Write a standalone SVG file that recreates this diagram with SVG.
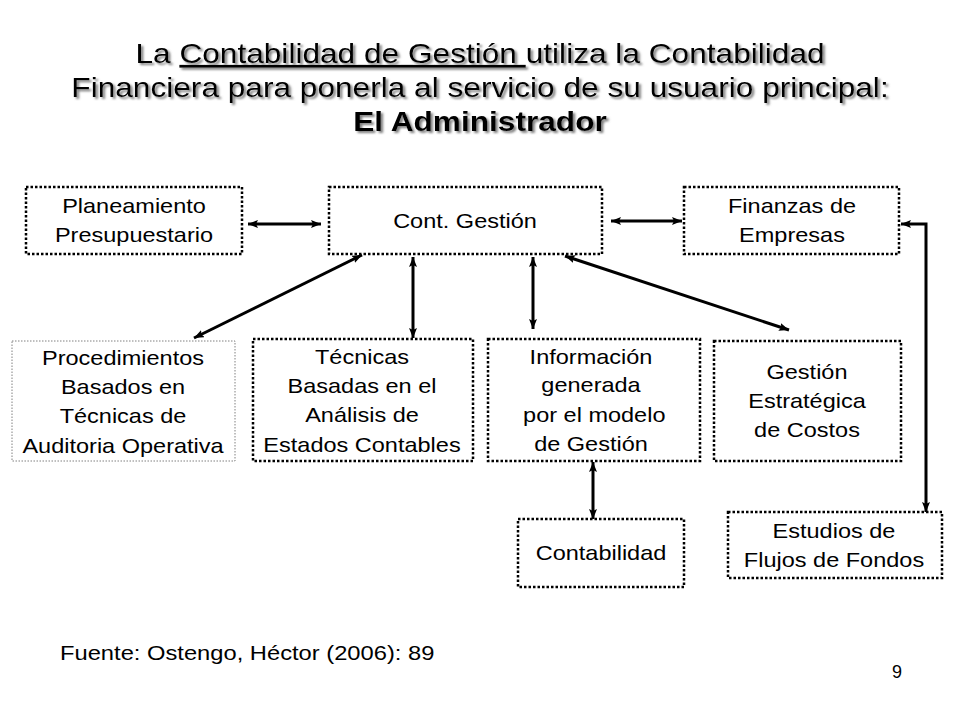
<svg xmlns="http://www.w3.org/2000/svg" width="960" height="720" viewBox="0 0 960 720">
<defs>
<filter id="shadow" x="-5%" y="-20%" width="110%" height="150%">
<feDropShadow dx="2" dy="2" stdDeviation="0.8" flood-color="#707070" flood-opacity="0.9"/>
</filter>
<marker id="ah" viewBox="0 0 10 8" refX="10" refY="4" markerWidth="10" markerHeight="8" markerUnits="userSpaceOnUse" orient="auto-start-reverse">
<path d="M0,0 L10,4 L0,8 L2,4 z" fill="#000"/>
</marker>
</defs>
<style>
.box{fill:#fff;stroke:#000;stroke-width:2.5;stroke-dasharray:2.5 2}
.thin{fill:#fff;stroke:#808080;stroke-width:1;stroke-dasharray:1.5 1.5}
.t{font-family:"Liberation Sans",Arial,sans-serif;font-size:21px;fill:#000;text-anchor:middle}
.title{font-family:"Liberation Sans",Arial,sans-serif;font-size:28px;fill:#000;text-anchor:middle;filter:url(#shadow)}
.c{fill:none;stroke:#000;stroke-width:3;marker-start:url(#ah);marker-end:url(#ah)}
</style>
<rect width="960" height="720" fill="#fff"/>
<g id="title">
<text class="title" transform="translate(480 0) scale(1.13 1)"><tspan x="0" y="63">La <tspan text-decoration="underline">Contabilidad  de Gestión </tspan>utiliza la Contabilidad</tspan><tspan x="0" y="97">Financiera para ponerla al servicio de su usuario principal:</tspan><tspan x="0" y="131" font-weight="bold">El Administrador</tspan></text>
</g>
<g id="connectors">
<line class="c" x1="248" y1="224" x2="321" y2="224"/>
<line class="c" x1="611" y1="221" x2="682" y2="221"/>
<line class="c" x1="362" y1="255" x2="194" y2="338"/>
<line class="c" x1="413" y1="257" x2="413" y2="338"/>
<line class="c" x1="533" y1="257" x2="533" y2="329"/>
<line class="c" x1="565" y1="256" x2="789" y2="330"/>
<line class="c" x1="593" y1="462" x2="593" y2="519"/>
<path class="c" d="M901,224 L926,224 L926,512"/>
</g>
<g id="plan">
<rect class="box" x="26" y="187" width="216" height="67"/>
<text class="t" transform="translate(134 0) scale(1.12 1)"><tspan x="0" y="213">Planeamiento</tspan><tspan x="0" y="242">Presupuestario</tspan></text>
</g>
<g id="cont">
<rect class="box" x="329" y="187" width="273" height="67"/>
<text class="t" transform="translate(465 0) scale(1.12 1)"><tspan x="0" y="228">Cont. Gestión</tspan></text>
</g>
<g id="fin">
<rect class="box" x="684" y="187" width="215" height="67"/>
<text class="t" transform="translate(792 0) scale(1.12 1)"><tspan x="0" y="213">Finanzas de</tspan><tspan x="0" y="242">Empresas</tspan></text>
</g>
<g id="proc">
<rect class="thin" x="12" y="341" width="223" height="120"/>
<text class="t" transform="translate(123 0) scale(1.12 1)"><tspan x="0" y="365">Procedimientos</tspan><tspan x="0" y="394">Basados en</tspan><tspan x="0" y="423">Técnicas de</tspan><tspan x="0" y="453">Auditoria Operativa</tspan></text>
</g>
<g id="tec">
<rect class="box" x="253" y="339" width="220" height="122"/>
<text class="t" transform="translate(362 0) scale(1.12 1)"><tspan x="0" y="364">Técnicas</tspan><tspan x="0" y="393">Basadas en el</tspan><tspan x="0" y="422">Análisis de</tspan><tspan x="0" y="452">Estados Contables</tspan></text>
</g>
<g id="info">
<rect class="box" x="488" y="339" width="212" height="122"/>
<text class="t" transform="translate(591 0) scale(1.12 1)"><tspan x="0" y="364">Información</tspan><tspan x="0" y="392">generada</tspan><tspan x="0" y="422"> por el modelo</tspan><tspan x="0" y="451">de Gestión</tspan></text>
</g>
<g id="gest">
<rect class="box" x="714" y="341" width="187" height="120"/>
<text class="t" transform="translate(807 0) scale(1.12 1)"><tspan x="0" y="379">Gestión</tspan><tspan x="0" y="408">Estratégica</tspan><tspan x="0" y="437">de Costos</tspan></text>
</g>
<g id="contab">
<rect class="box" x="518" y="519" width="166" height="68"/>
<text class="t" transform="translate(601 0) scale(1.12 1)"><tspan x="0" y="560">Contabilidad</tspan></text>
</g>
<g id="est">
<rect class="box" x="728" y="512" width="214" height="66"/>
<text class="t" transform="translate(834 0) scale(1.12 1)"><tspan x="0" y="538">Estudios de</tspan><tspan x="0" y="567">Flujos de Fondos</tspan></text>
</g>
<g id="footer">
<text class="t" style="text-anchor:start" transform="translate(60 0) scale(1.13 1)"><tspan x="0" y="660">Fuente: Ostengo, Héctor (2006): 89</tspan></text>
<text class="t" style="font-size:18px" x="897" y="678">9</text>
</g>
</svg>
